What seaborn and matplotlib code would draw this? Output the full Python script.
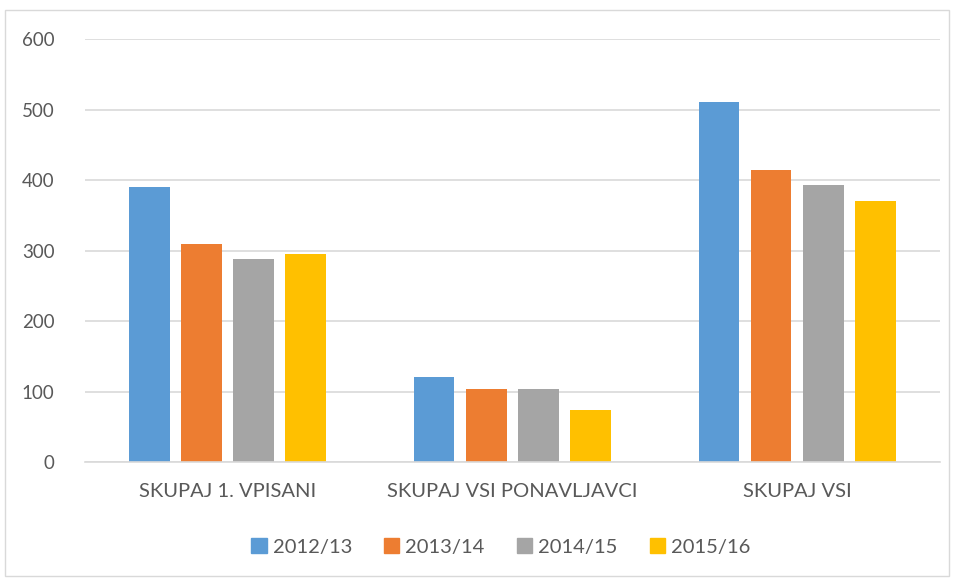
import matplotlib
matplotlib.use("Agg")
import matplotlib.pyplot as plt
import matplotlib.patches as mpatches
import pandas as pd
import seaborn as sns

# Data
categories = ["SKUPAJ 1. VPISANI", "SKUPAJ VSI PONAVLJAVCI", "SKUPAJ VSI"]
years = ["2012/13", "2013/14", "2014/15", "2015/16"]
values_2012 = [390, 121, 511]
values_2013 = [310, 104, 414]
values_2014 = [288, 104, 393]
values_2015 = [295, 74, 370]
colors = ["#5B9BD5", "#ED7D31", "#A5A5A5", "#FFC000"]
yticks = [0, 100, 200, 300, 400, 500, 600]

rows = []
for year, vals in zip(years, [values_2012, values_2013, values_2014, values_2015]):
    for cat, v in zip(categories, vals):
        rows.append({"kategorija": cat, "leto": year, "vrednost": v})
df = pd.DataFrame(rows)

sns.set_style("white")
plt.rcParams["font.family"] = ["Lato", "DejaVu Sans"]
text_color = "#595959"

fig = plt.figure(figsize=(9.54, 5.79), dpi=100)
ax = fig.add_axes([0.0891, 0.2019, 0.8962, 0.7302])

sns.barplot(data=df, x="kategorija", y="vrednost", hue="leto",
            palette=colors, width=0.73, gap=0.23, ax=ax, legend=False,
            saturation=1, linewidth=0)

ax.set_ylim(0, 600)
ax.set_xlim(-0.5, 2.5)
ax.set_yticks(yticks)
ax.yaxis.grid(True, color="#D9D9D9", linewidth=1.2)
ax.set_axisbelow(True)
for s in ["top", "right", "left"]:
    ax.spines[s].set_visible(False)
ax.spines["bottom"].set_color("#D9D9D9")
ax.spines["bottom"].set_linewidth(1.2)
ax.set_xlabel("")
ax.set_ylabel("")
ax.tick_params(axis="both", length=0, labelcolor=text_color, labelsize=13.5)
ax.tick_params(axis="y", pad=22)
ax.tick_params(axis="x", pad=15)
for lbl in ax.get_xticklabels():
    lbl.set_fontsize(14.5)

handles = [mpatches.Patch(color=c, label=y) for c, y in zip(colors, years)]
fig.legend(handles=handles, loc="center", bbox_to_anchor=(0.525, 0.055), ncol=4,
           frameon=False, fontsize=14.5, labelcolor=text_color,
           handlelength=0.75, handleheight=0.75, handletextpad=0.3,
           columnspacing=1.6)

# light frame around the chart area
fig.patches.append(mpatches.Rectangle((0.005, 0.005), 0.99, 0.978,
                                      transform=fig.transFigure, fill=False,
                                      edgecolor="#D9D9D9", linewidth=1))

fig.savefig("out.png", dpi=100)
